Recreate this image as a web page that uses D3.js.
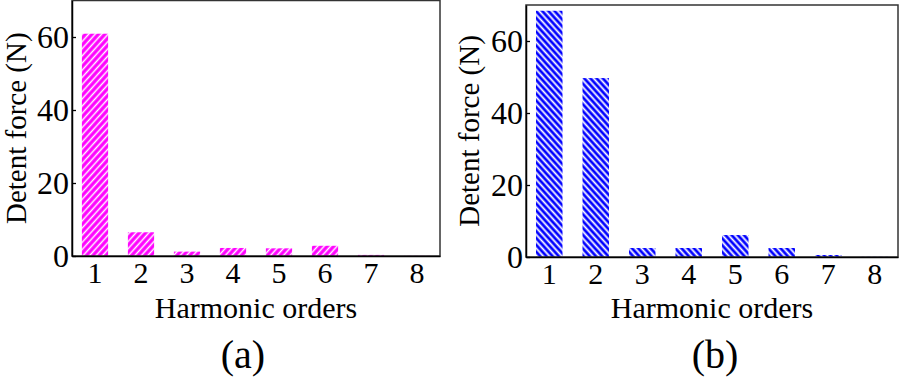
<!DOCTYPE html>
<html><head><meta charset="utf-8">
<script src="https://cdn.jsdelivr.net/npm/d3@7"></script>
<style>body{margin:0;background:#fff}svg{display:block}text{font-family:"Liberation Serif","Times New Roman",serif;fill:#000}</style>
</head><body><svg id="c" width="900" height="383"></svg>
<script>
const categories = ["1","2","3","4","5","6","7","8"];
const valuesA = [60.9, 6.5, 1.2, 2.2, 2.1, 2.8, 0.3, 0.05];
const valuesB = [68.4, 49.7, 2.5, 2.5, 6.1, 2.5, 0.55, 0.05];
const yTicks = [0, 20, 40, 60];
const xTitle = "Harmonic orders";
const yTitle = "Detent force (N)";

const svg = d3.select("#c");
const defs = svg.append("defs");
function hatch(id, color, angle, period, lw){
  const p = defs.append("pattern").attr("id", id).attr("patternUnits","userSpaceOnUse")
    .attr("width", period).attr("height", period).attr("patternTransform", `rotate(${angle})`);
  p.append("rect").attr("width", period).attr("height", period).attr("fill", color);
  p.append("line").attr("x1", period/2).attr("x2", period/2).attr("y1", 0).attr("y2", period)
    .attr("stroke", "#fff").attr("stroke-width", lw);
}
hatch("hA", "#ff00ff", 42, 4.8, 1.5);
hatch("hB", "#0000ff", -42, 4.6, 1.8);

function panel(cfg){
  const {x0,x1,y0,y1,values,fill,label,labelX,ylabX} = cfg;
  const g = svg.append("g");
  const x = d3.scaleBand().domain(categories).range([x0,x1]).paddingInner(0.43).paddingOuter(0.215);
  const y = d3.scaleLinear().domain([0,70]).range([y1,y0]);
  g.selectAll("rect.bar").data(values).join("rect").attr("class","bar")
    .attr("x",(d,i)=>x(categories[i])).attr("width",x.bandwidth())
    .attr("y",d=>y(d)).attr("height",d=>y(0)-y(d)).attr("fill",`url(#${fill})`);
  g.append("rect").attr("x",x0).attr("y",y0).attr("width",x1-x0).attr("height",y1-y0)
    .attr("fill","none").attr("stroke","#333").attr("stroke-width",1.5);
  const ya = g.append("g").attr("transform",`translate(${x0},0)`)
    .call(d3.axisLeft(y).tickValues(yTicks).tickSizeInner(-4).tickSizeOuter(0).tickPadding(3));
  ya.select(".domain").attr("stroke","#000").attr("stroke-width",1.5);
  ya.selectAll(".tick line").attr("stroke","#000").attr("stroke-width",1.3);
  ya.selectAll("text").style("font-size","32px").attr("font-family",null);
  const xa = g.append("g").attr("transform",`translate(0,${y1})`)
    .call(d3.axisBottom(x).tickSize(0).tickPadding(6));
  xa.select(".domain").attr("stroke","#000").attr("stroke-width",1.5);
  xa.selectAll("text").style("font-size","30px").attr("font-family",null);
  g.append("text").attr("x",(x0+x1)/2).attr("y",318).attr("text-anchor","middle")
    .style("font-size","30px").text(xTitle);
  g.append("text").attr("transform",`translate(${ylabX},${(y0+y1)/2}) rotate(-90)`)
    .attr("text-anchor","middle").style("font-size","29px").text(yTitle);
  g.append("text").attr("x",labelX).attr("y",368).attr("text-anchor","middle")
    .style("font-size","40px").text(label);
}
panel({x0:72,x1:440,y0:0.5,y1:256,values:valuesA,fill:"hA",label:"(a)",labelX:243,ylabX:26});
panel({x0:526,x1:898,y0:5,y1:257,values:valuesB,fill:"hB",label:"(b)",labelX:715,ylabX:479});
</script></body></html>
